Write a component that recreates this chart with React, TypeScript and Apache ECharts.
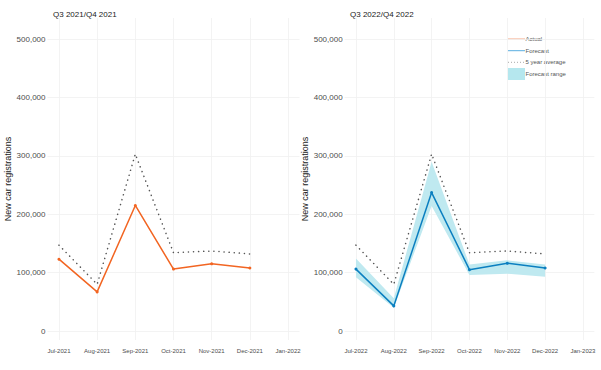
import React, { useEffect, useRef } from "react";
import * as echarts from "echarts";

const months2021 = ["Jul-2021", "Aug-2021", "Sep-2021", "Oct-2021", "Nov-2021", "Dec-2021", "Jan-2022"];
const months2022 = ["Jul-2022", "Aug-2022", "Sep-2022", "Oct-2022", "Nov-2022", "Dec-2022", "Jan-2023"];
const actual2021 = [123000, 67000, 215000, 106000, 115000, 108000];
const avg2021 = [147000, 80000, 303000, 134000, 137000, 132000];
const forecast2022 = [106000, 43000, 237000, 105000, 116000, 108000];
const lower2022 = [92000, 40000, 214000, 96000, 98000, 93000];
const upper2022 = [124000, 56000, 290000, 114000, 121000, 114000];
const avg2022 = [147000, 80000, 303000, 134000, 137000, 132000];
const panelTitles = ["Q3 2021/Q4 2021", "Q3 2022/Q4 2022"];
const yTitle = "New car registrations";
const legendNames = ["Actual", "Forecast", "5 year average", "Forecast range"];

const FONT = "'Liberation Sans', Arial, sans-serif";
const ORANGE = "#f26522";
const BLUE = "#0b7fc0";
const BAND = "#bfe9f0";
const GREY = "#555555";
const GRID = "#f0f0f0";

const pts = (arr: number[]) => arr.map((v, i) => [i, v]);

function xAxis(gridIndex: number, labels: string[]) {
  return {
    gridIndex,
    type: "value",
    min: -0.3,
    max: 6.3,
    minInterval: 1,
    maxInterval: 1,
    axisLine: { show: false },
    axisTick: { show: false },
    splitLine: { show: true, showMinLine: false, showMaxLine: false, lineStyle: { color: GRID, width: 0.8 } },
    axisLabel: {
      showMinLabel: false,
      showMaxLabel: false,
      fontSize: 6,
      fontFamily: FONT,
      color: "#4d4d4d",
      margin: 8,
      formatter: (v: number) => (Number.isInteger(v) && v >= 0 && v < labels.length ? labels[v] : ""),
    },
  };
}

function yAxis(gridIndex: number) {
  return {
    gridIndex,
    type: "value",
    min: -15400,
    max: 536000,
    minInterval: 100000,
    maxInterval: 100000,
    axisLine: { show: false },
    axisTick: { show: false },
    splitLine: { show: true, showMinLine: false, showMaxLine: false, lineStyle: { color: GRID, width: 0.8 } },
    axisLabel: {
      showMinLabel: false,
      showMaxLabel: false,
      fontSize: 8,
      fontFamily: FONT,
      color: "#4d4d4d",
      margin: 2,
      formatter: (v: number) => (v % 100000 === 0 ? v.toLocaleString("en-US") : ""),
    },
    name: yTitle,
    nameLocation: "middle",
    nameGap: 33,
    nameRotate: 90,
    nameTextStyle: { fontSize: 9, fontFamily: FONT, color: "#1a1a1a" },
  };
}

export default function App() {
  const ref = useRef<HTMLDivElement>(null);
  useEffect(() => {
    if (!ref.current) return;
    const chart = echarts.init(ref.current, null, { renderer: "svg" });
    const lx = 508;
    const legendY = [39, 50.7, 62.3, 74];
    const bandData = lower2022.map((lo, i) => [i, lo, upper2022[i]]);
    chart.setOption({
      animation: false,
      backgroundColor: "#ffffff",
      title: [
        { text: panelTitles[0], left: 48, top: 5, textStyle: { fontSize: 8, fontWeight: "normal", fontFamily: FONT, color: "#1a1a1a" } },
        { text: panelTitles[1], left: 345, top: 5, textStyle: { fontSize: 8, fontWeight: "normal", fontFamily: FONT, color: "#1a1a1a" } },
      ],
      grid: [
        { left: 47.5, top: 18, width: 252, height: 322 },
        { left: 344.6, top: 18, width: 249.7, height: 322 },
      ],
      xAxis: [xAxis(0, months2021), xAxis(1, months2022)],
      yAxis: [yAxis(0), yAxis(1)],
      series: [
        {
          name: "5 year average",
          type: "line",
          xAxisIndex: 0,
          yAxisIndex: 0,
          data: pts(avg2021),
          showSymbol: false,
          lineStyle: { color: GREY, width: 1.5, type: [0.1, 5], cap: "round" },
        },
        {
          name: "Actual",
          type: "line",
          xAxisIndex: 0,
          yAxisIndex: 0,
          data: pts(actual2021),
          symbol: "circle",
          symbolSize: 3,
          itemStyle: { color: ORANGE },
          lineStyle: { color: ORANGE, width: 1.5 },
        },
        {
          name: "Forecast range",
          type: "custom",
          xAxisIndex: 1,
          yAxisIndex: 1,
          data: bandData,
          encode: { x: 0, y: [1, 2] },
          renderItem: (params: any, api: any) => {
            if (params.dataIndex !== 0) return null;
            const top = bandData.map((d) => api.coord([d[0], d[2]]));
            const bottom = bandData.map((d) => api.coord([d[0], d[1]])).reverse();
            return {
              type: "polygon",
              shape: { points: top.concat(bottom) },
              style: { fill: BAND },
              silent: true,
            };
          },
          z: 1,
        },
        {
          name: "5 year average ",
          type: "line",
          xAxisIndex: 1,
          yAxisIndex: 1,
          data: pts(avg2022),
          showSymbol: false,
          lineStyle: { color: GREY, width: 1.5, type: [0.1, 5], cap: "round" },
          z: 3,
        },
        {
          name: "Forecast",
          type: "line",
          xAxisIndex: 1,
          yAxisIndex: 1,
          data: pts(forecast2022),
          symbol: "circle",
          symbolSize: 3,
          itemStyle: { color: BLUE },
          lineStyle: { color: BLUE, width: 1.5 },
          z: 4,
        },
      ],
      graphic: [
        { type: "line", shape: { x1: lx, y1: legendY[0], x2: lx + 17, y2: legendY[0] }, style: { stroke: "#f4a582", lineWidth: 1 } },
        { type: "line", shape: { x1: lx, y1: legendY[1], x2: lx + 17, y2: legendY[1] }, style: { stroke: "#5aaee0", lineWidth: 1 } },
        { type: "line", shape: { x1: lx, y1: legendY[2], x2: lx + 17, y2: legendY[2] }, style: { stroke: "#777", lineWidth: 0.8, lineDash: [0.8, 2.2] } },
        { type: "rect", shape: { x: lx, y: legendY[3] - 6, width: 17, height: 12 }, style: { fill: "#b5e7ee" } },
        ...legendNames.map((n, i) => ({
          type: "text",
          x: lx + 17.5,
          y: legendY[i],
          style: { text: n, fontSize: 6, fontFamily: FONT, fill: "#555", verticalAlign: "middle", align: "left" },
        })),
      ],
    });
    return () => chart.dispose();
  }, []);
  return <div ref={ref} style={{ width: 601, height: 370, position: "absolute", left: 0, top: 0 }} />;
}
